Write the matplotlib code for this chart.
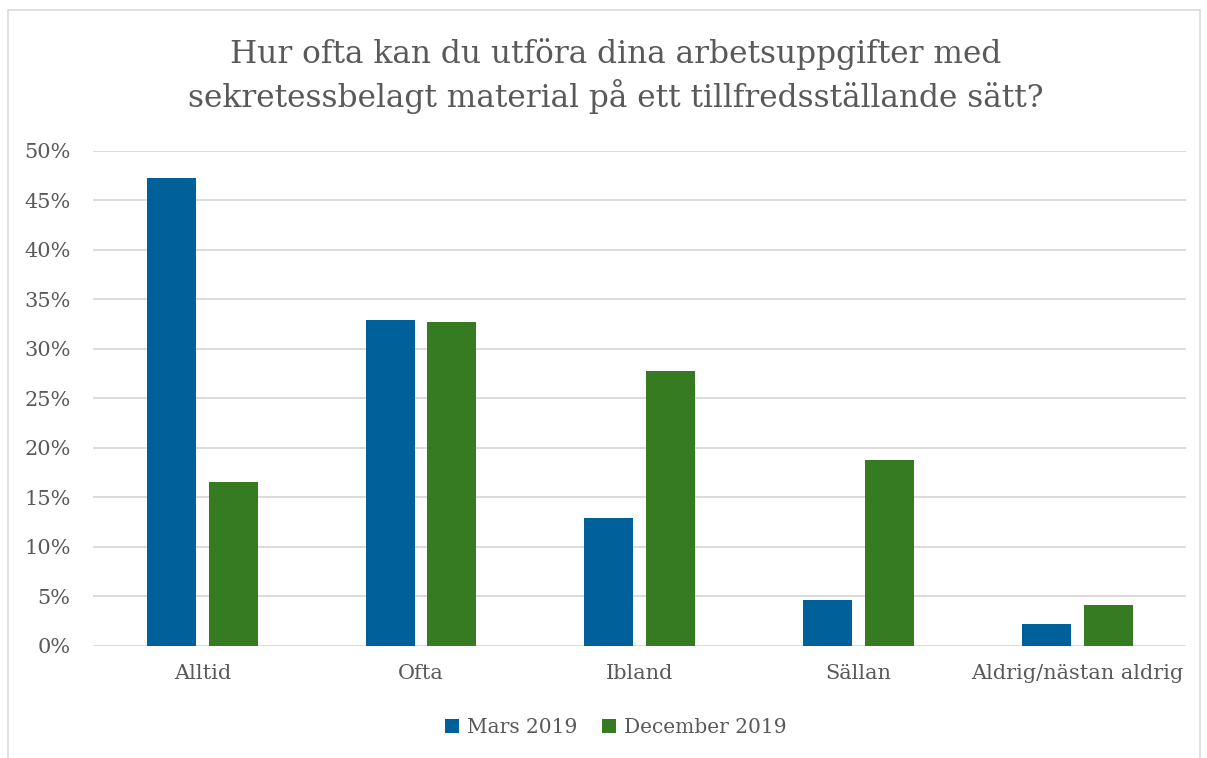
import matplotlib.pyplot as plt
import matplotlib.patches as mpatches
import numpy as np

# Survey answers (share of respondents)
categories = ['Alltid', 'Ofta', 'Ibland', 'Sällan', 'Aldrig/nästan aldrig']
mars_2019 = [0.473, 0.329, 0.129, 0.046, 0.022]
december_2019 = [0.166, 0.327, 0.278, 0.188, 0.041]
series_labels = ['Mars 2019', 'December 2019']
yticks = [0, 0.05, 0.10, 0.15, 0.20, 0.25, 0.30, 0.35, 0.40, 0.45, 0.50]

blue = '#00609a'
green = '#367a21'
text_grey = '#595959'

plt.rcParams['font.family'] = ['DejaVu Serif']

fig = plt.figure(figsize=(12.07, 7.58), dpi=100)
ax = fig.add_axes([0.077, 0.1478, 0.906, 0.653])

# outer chart border
fig.patches.append(mpatches.Rectangle((8 / 1207, -0.01), 1192 / 1207, 1 - 10 / 758 + 0.01,
                                      transform=fig.transFigure, fill=False,
                                      edgecolor='#d9d9d9', linewidth=1.2))

x = np.arange(len(categories))
w = 0.224
off = 0.1416
ax.bar(x - off, mars_2019, w, color=blue, label=series_labels[0], zorder=3)
ax.bar(x + off, december_2019, w, color=green, label=series_labels[1], zorder=3)

ax.set_xlim(-0.5, len(categories) - 0.5)
ax.set_ylim(0, 0.5)
ax.set_yticks(yticks)
ax.set_yticklabels([f'{int(round(t * 100))}%' for t in yticks])
ax.set_xticks(x)
ax.set_xticklabels(categories)
ax.tick_params(axis='both', length=0, labelsize=15, colors=text_grey)
ax.tick_params(axis='y', pad=16)
ax.tick_params(axis='x', pad=13)
ax.grid(axis='y', color='#d9d9d9', linewidth=1.3, zorder=0)
for s in ax.spines.values():
    s.set_visible(False)

fig.text(0.51, 0.9, 'Hur ofta kan du utföra dina arbetsuppgifter med\n'
         'sekretessbelagt material på ett tillfredsställande sätt?',
         ha='center', va='center', fontsize=22.5, color=text_grey, linespacing=1.3)

fig.legend(loc='center', bbox_to_anchor=(0.51, 0.04), ncol=2, frameon=False,
           fontsize=14.5, labelcolor=text_grey, handlelength=0.7, handleheight=0.7,
           handletextpad=0.4, columnspacing=1.2)

fig.savefig('out.png', dpi=100, facecolor='white')
